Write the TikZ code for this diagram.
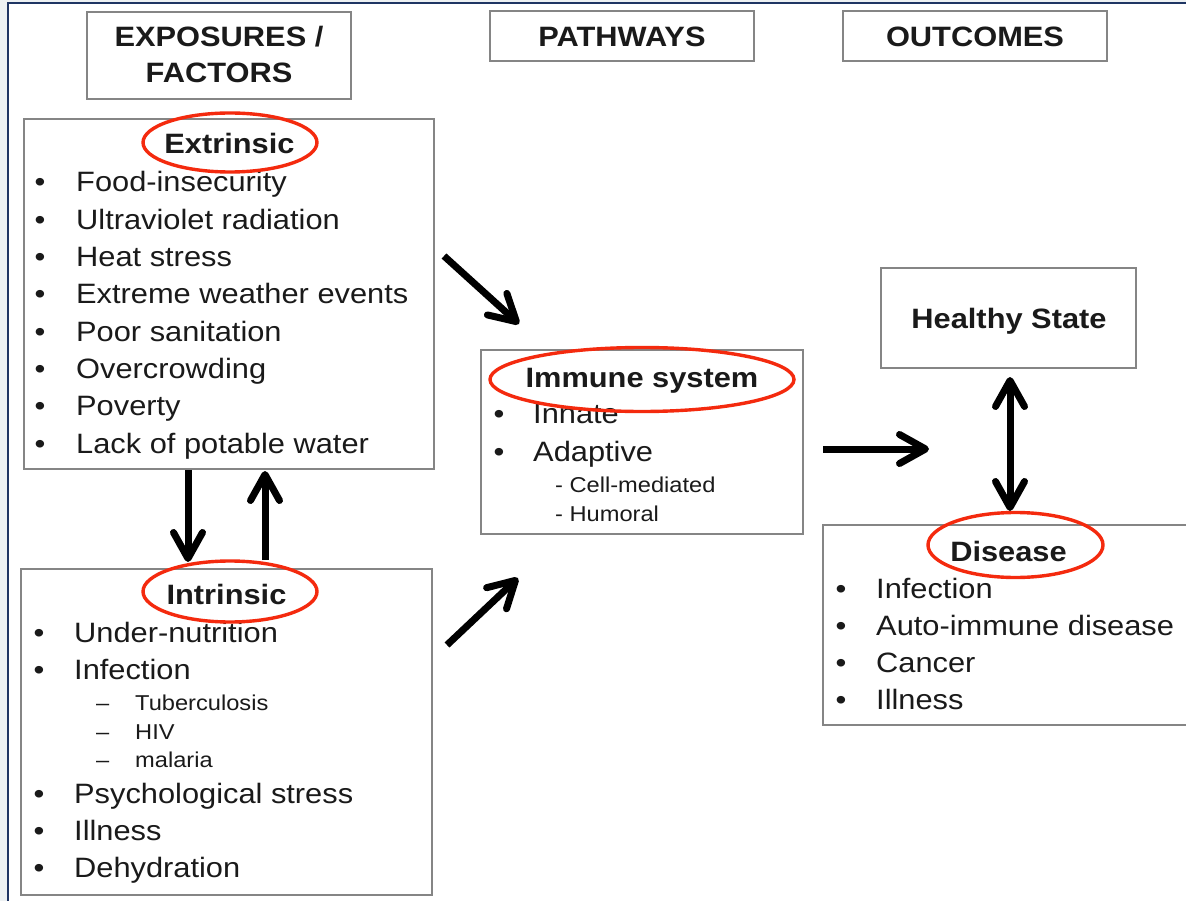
\documentclass[tikz,border=0pt]{standalone}
\usepackage{fontspec}
\setmainfont[FakeStretch=1.1]{Liberation Sans}
\usetikzlibrary{arrows.meta}
\definecolor{boxgray}{HTML}{858585}
\definecolor{ovalred}{HTML}{F42A0E}
\definecolor{navy}{HTML}{1F3563}
\definecolor{margin}{HTML}{EDF1F3}
\definecolor{ink}{HTML}{1A1A1A}
\begin{document}
\begin{tikzpicture}[x=1pt,y=-1pt,
 box/.style={draw=boxgray,line width=1.8pt,inner sep=0},
 txt/.style={anchor=base west,inner sep=0,text=ink,font=\fontsize{28}{34}\selectfont},
 hd/.style={anchor=base,inner sep=0,text=ink,font=\fontsize{28}{34}\selectfont\bfseries},
 sub/.style={anchor=base west,inner sep=0,text=ink,font=\fontsize{21.5}{26}\selectfont},
 bul/.style={anchor=base,inner sep=0,text=ink,font=\fontsize{28}{34}\selectfont},
 oval/.style={draw=ovalred,line width=3.4pt},
 tipA/.tip={Straight Barb[length=26pt,width=29pt,round]},
 arr/.style={line width=7pt,-tipA},
 darr/.style={line width=7pt,tipA-tipA},
]
\useasboundingbox (0,0) rectangle (1186,901);
\fill[margin] (0,0) rectangle (1186,901);
\fill[white] (8,3) rectangle (1186,901);
\draw[navy,line width=2pt] (8,901) -- (8,3) -- (1186,3);

% header boxes
\node[box,minimum width=264pt,minimum height=87pt] (hexp) at (219,55.5) {};
\node[box,minimum width=264pt,minimum height=50pt] (hpath) at (622,36) {};
\node[box,minimum width=264pt,minimum height=50pt] (hout) at (975,36) {};
\node[hd] (hexp1) at (219,47) {EXPOSURES /};
\node[hd] (hexp2) at (219,83) {FACTORS};
\node[hd] (hpatht) at (622,47) {PATHWAYS};
\node[hd] (houtt) at (975,47) {OUTCOMES};

% content boxes
\node[box,minimum width=410pt,minimum height=350pt] (extr) at (229,294) {};
\node[box,minimum width=411pt,minimum height=326pt] (intr) at (226.5,732) {};
\node[box,minimum width=322pt,minimum height=184pt] (imm) at (642,442) {};
\node[box,minimum width=255pt,minimum height=100pt] (healthy) at (1008.5,318) {};
\node[box,minimum width=377pt,minimum height=200pt] (dis) at (1011.5,625) {};

% Extrinsic
\node[hd] (extrt) at (229.5,154) {Extrinsic};
\foreach \t [count=\i] in {Food-insecurity,Ultraviolet radiation,Heat stress,Extreme weather events,Poor sanitation,Overcrowding,Poverty,Lack of potable water}{
  \node[bul] (exb\i) at (40,{192+37.3*(\i-1)}) {•};
  \node[txt] (ex\i) at (76,{192+37.3*(\i-1)}) {\t};
}

% Intrinsic
\node[hd] (intrt) at (226.5,604) {Intrinsic};
\node[bul] (inb1) at (39,642) {•};
\node[txt] (in1) at (74,642) {Under-nutrition};
\node[bul] (inb2) at (39,679) {•};
\node[txt] (in2) at (74,679) {Infection};
\node[sub] (ind1) at (96,710) {–};
\node[sub] (ins1) at (135,710) {Tuberculosis};
\node[sub] (ind2) at (96,739) {–};
\node[sub] (ins2) at (135,739) {HIV};
\node[sub] (ind3) at (96,767) {–};
\node[sub] (ins3) at (135,767) {malaria};
\node[bul] (inb3) at (39,803) {•};
\node[txt] (in3) at (74,803) {Psychological stress};
\node[bul] (inb4) at (39,840) {•};
\node[txt] (in4) at (74,840) {Illness};
\node[bul] (inb5) at (39,877) {•};
\node[txt] (in5) at (74,877) {Dehydration};

% Immune system
\node[hd] (immt) at (642,387) {Immune system};
\node[bul] (imb1) at (499,423) {•};
\node[txt] (im1) at (533,423) {Innate};
\node[bul] (imb2) at (499,461) {•};
\node[txt] (im2) at (533,461) {Adaptive};
\node[sub] (ims1) at (555,492) {- Cell-mediated};
\node[sub] (ims2) at (555,521) {- Humoral};

% Healthy state
\node[hd] (healthyt) at (1009,329) {Healthy State};

% Disease
\node[hd] (dist) at (1008.5,561) {Disease};
\foreach \t [count=\i] in {Infection,Auto-immune disease,Cancer,Illness}{
  \node[bul] (dsb\i) at (841,{598+37.3*(\i-1)}) {•};
  \node[txt] (ds\i) at (876,{598+37.3*(\i-1)}) {\t};
}

% red ovals
\draw[oval] (230,142.5) ellipse [x radius=87, y radius=29.5];
\draw[oval] (230,591.5) ellipse [x radius=87, y radius=30.5];
\draw[oval] (642,379.5) ellipse [x radius=152, y radius=32];
\draw[oval] (1015.5,545) ellipse [x radius=87.5, y radius=32.5];

% arrows
\coordinate (a1s) at (444,256);
\coordinate (a1e) at (519,324);
\coordinate (a2s) at (447,645);
\coordinate (a2e) at (518,578);
\coordinate (a3s) at (823,449);
\coordinate (a3e) at (929,449);
\coordinate (dTop) at (1010,377);
\coordinate (dBot) at (1010,511);
\coordinate (dnTip) at (188,562);
\coordinate (upTail) at (265,560);
\coordinate (upTip) at (265,471);
\draw[arr] (a1s) -- (a1e);
\draw[arr] (a2s) -- (a2e);
\draw[arr] (a3s) -- (a3e);
\draw[darr] (dBot) -- (dTop);
\draw[arr] (extr.south -| dnTip) -- (dnTip);
\draw[arr] (upTail) -- (upTip);
\end{tikzpicture}
\end{document}
